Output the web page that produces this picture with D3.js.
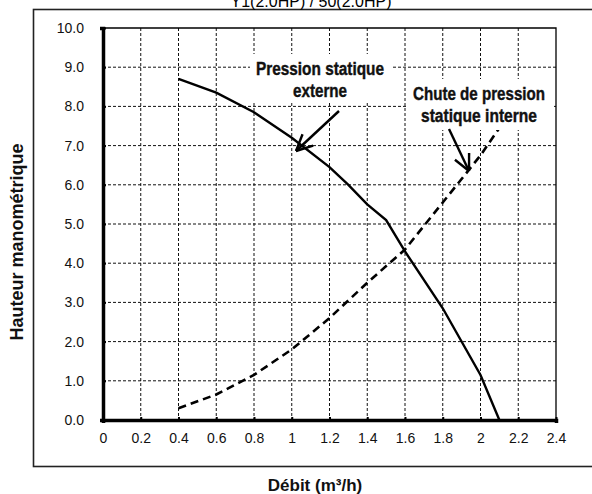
<!DOCTYPE html>
<html>
<head>
<meta charset="utf-8">
<script src="https://cdn.jsdelivr.net/npm/d3@7"></script>
<style>
  body { margin: 0; background: #fff; }
  svg { display: block; }
</style>
</head>
<body>
<svg id="chart" width="592" height="494"></svg>
<script>
// debit values (m3/h) and heads
const extFlow = [0.4, 0.6, 0.8, 1.0, 1.2, 1.3, 1.4, 1.5, 1.6, 1.8, 2.0, 2.1];
const extHead = [8.7, 8.35, 7.85, 7.2, 6.45, 6.0, 5.5, 5.1, 4.3, 2.85, 1.15, 0];
const intFlow = [0.4, 0.6, 0.8, 1.0, 1.2, 1.4, 1.6, 1.8, 2.0, 2.1];
const intHead = [0.3, 0.65, 1.15, 1.8, 2.6, 3.5, 4.35, 5.55, 6.75, 7.45];
const xTicks = [0, 0.2, 0.4, 0.6, 0.8, 1.0, 1.2, 1.4, 1.6, 1.8, 2.0, 2.2, 2.4];
const yTicks = [0, 1, 2, 3, 4, 5, 6, 7, 8, 9, 10];

const svg = d3.select("#chart");
const x = d3.scaleLinear().domain([0, 2.4]).range([103, 556]);
const y = d3.scaleLinear().domain([0, 10]).range([420, 28]);
const font = "Liberation Sans, Arial, sans-serif";

// outer frame (runs off the right edge)
svg.append("rect")
  .attr("x", 33.5).attr("y", 9.5).attr("width", 600).attr("height", 457)
  .attr("fill", "none").attr("stroke", "#222").attr("stroke-width", 1.6);

// title, mostly cut off at the top
svg.append("text")
  .attr("x", 311).attr("y", 7)
  .attr("text-anchor", "middle")
  .style("font-family", font)
  .style("font-size", "16px")
  .text("Y1(2.0HP) / 50(2.0HP)");

// grid
const grid = svg.append("g");
grid.selectAll(".vg").data(xTicks.slice(1, -1)).enter().append("line")
  .attr("x1", d => x(d)).attr("x2", d => x(d))
  .attr("y1", y(10)).attr("y2", y(0))
  .attr("stroke", "#111").attr("stroke-width", 1).attr("stroke-dasharray", "3,2");
grid.selectAll(".hg").data(yTicks.slice(1, -1)).enter().append("line")
  .attr("x1", x(0)).attr("x2", x(2.4))
  .attr("y1", d => y(d)).attr("y2", d => y(d))
  .attr("stroke", "#111").attr("stroke-width", 1).attr("stroke-dasharray", "3,2");

// top and right border
svg.append("path")
  .attr("d", `M${x(0)},${y(10)}H${x(2.4)}V${y(0)}`)
  .attr("fill", "none").attr("stroke", "#000").attr("stroke-width", 1.3);

// axes
const xAxis = svg.append("g")
  .attr("transform", `translate(0,${y(0)})`)
  .call(d3.axisBottom(x).tickValues(xTicks).tickSize(3).tickPadding(10)
    .tickFormat(d => d === 0 ? "0" : d3.format("~g")(d)));
const yAxis = svg.append("g")
  .attr("transform", `translate(${x(0)},0)`)
  .call(d3.axisLeft(y).tickValues(yTicks).tickSize(3).tickPadding(16)
    .tickFormat(d3.format(".1f")));
[xAxis, yAxis].forEach(a => {
  a.select(".domain").attr("stroke", "#000").attr("stroke-width", 3.5);
  a.selectAll(".tick line").attr("stroke", "#000").attr("stroke-width", 2);
  a.selectAll(".tick text").attr("fill", "#111")
    .style("font-family", font).style("font-size", "14px");
});
xAxis.selectAll(".tick line").attr("y1", -3).attr("y2", 0);
yAxis.selectAll(".tick line").attr("x1", 0).attr("x2", 3);

// curves
const line = d3.line().x(d => x(d[0])).y(d => y(d[1]));
svg.append("path")
  .datum(d3.zip(intFlow, intHead))
  .attr("d", line)
  .attr("fill", "none").attr("stroke", "#000").attr("stroke-width", 2.6)
  .attr("stroke-dasharray", "8,5");
svg.append("path")
  .datum(d3.zip(extFlow, extHead))
  .attr("d", line)
  .attr("fill", "none").attr("stroke", "#000").attr("stroke-width", 2.4);

// annotations (condensed bold look, squeezed with textLength)
function note(lines, widths, cx, cy, box) {
  svg.append("rect")
    .attr("x", box[0]).attr("y", box[1]).attr("width", box[2]).attr("height", box[3])
    .attr("fill", "#fff");
  lines.forEach((s, i) => {
    svg.append("text")
      .attr("x", cx - widths[i] / 2).attr("y", cy + i * 22)
      .attr("textLength", widths[i]).attr("lengthAdjust", "spacingAndGlyphs")
      .style("font-family", font).style("font-weight", "bold")
      .style("font-size", "18px").attr("fill", "#111")
      .attr("stroke", "#111").attr("stroke-width", 0.4)
      .text(s);
  });
}
function arrow(x1, y1, x2, y2, head) {
  const a = Math.atan2(y2 - y1, x2 - x1);
  const g = svg.append("g").attr("stroke", "#000").attr("stroke-width", 2.4)
    .attr("fill", "none");
  g.append("line").attr("x1", x1).attr("y1", y1).attr("x2", x2).attr("y2", y2);
  [0.45, -0.45].forEach(s => {
    g.append("line").attr("x1", x2).attr("y1", y2)
      .attr("x2", x2 - head * Math.cos(a + s)).attr("y2", y2 - head * Math.sin(a + s));
  });
}
note(["Pression statique", "externe"], [128, 54], 320, 75, [250, 54, 143, 48]);
note(["Chute de pression", "statique interne"], [132, 116], 479, 100, [407, 79, 147, 51]);
arrow(339, 111, 296, 151, 18);
arrow(449, 129, 469, 171, 18);

// axis titles
svg.append("text")
  .attr("transform", "translate(23,242) rotate(-90)")
  .attr("text-anchor", "middle")
  .style("font-family", font).style("font-weight", "bold").style("font-size", "18px")
  .attr("fill", "#111")
  .text("Hauteur manométrique");
svg.append("text")
  .attr("x", 315).attr("y", 491)
  .attr("text-anchor", "middle")
  .style("font-family", font).style("font-weight", "bold").style("font-size", "17px")
  .attr("fill", "#111")
  .text("Débit (m³/h)");
</script>
</body>
</html>
